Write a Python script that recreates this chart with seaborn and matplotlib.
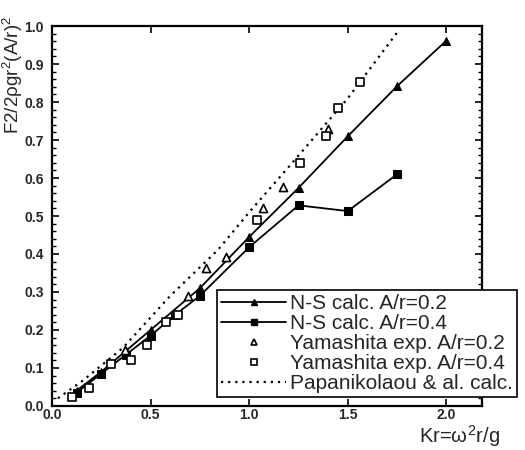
import numpy as np
import matplotlib
matplotlib.use("Agg")
import matplotlib.pyplot as plt
import seaborn as sns
from matplotlib.lines import Line2D
from matplotlib.ticker import MultipleLocator

# N-S calculation, A/r = 0.2 (filled triangles)
ns02_x = [0.125, 0.25, 0.375, 0.5, 0.75, 1.0, 1.25, 1.5, 1.75, 2.0]
ns02_y = [0.04, 0.09, 0.145, 0.20, 0.31, 0.445, 0.574, 0.71, 0.842, 0.962]

# N-S calculation, A/r = 0.4 (filled squares)
ns04_x = [0.125, 0.25, 0.375, 0.5, 0.625, 0.75, 1.0, 1.25, 1.5, 1.75]
ns04_y = [0.035, 0.085, 0.135, 0.185, 0.24, 0.29, 0.418, 0.528, 0.513, 0.61]

# Yamashita experiments
yam02_x = [0.37, 0.69, 0.78, 0.88, 1.07, 1.17, 1.40]
yam02_y = [0.147, 0.29, 0.363, 0.392, 0.52, 0.576, 0.73]
yam04_x = [0.10, 0.19, 0.30, 0.40, 0.48, 0.58, 0.64, 1.04, 1.26, 1.39, 1.45, 1.56]
yam04_y = [0.024, 0.047, 0.11, 0.12, 0.16, 0.22, 0.24, 0.49, 0.64, 0.71, 0.784, 0.853]

# Papanikolaou & al. calculation (dotted)
pap_x = [0.03, 0.16, 0.36, 0.6, 0.84, 1.0, 1.21, 1.5, 1.76]
pap_y = [0.02, 0.068, 0.153, 0.29, 0.41, 0.51, 0.635, 0.81, 0.99]

labels = ["N-S calc. A/r=0.2", "N-S calc. A/r=0.4", "Yamashita exp. A/r=0.2",
          "Yamashita exp. A/r=0.4", "Papanikolaou & al. calc."]

sns.set_style("ticks")
plt.rcParams["font.family"] = ["Liberation Sans", "DejaVu Sans"]
plt.rcParams["mathtext.fontset"] = "custom"
plt.rcParams["mathtext.rm"] = "Liberation Sans"
plt.rcParams["mathtext.it"] = "Liberation Sans"

fig = plt.figure(figsize=(5.25, 4.5), dpi=100)
ax = fig.add_axes([0.099, 0.098, 0.819, 0.844])

sns.lineplot(x=ns02_x, y=ns02_y, ax=ax, color="black", lw=1.3, marker="^",
             markersize=6, markeredgecolor="black", estimator=None, sort=False)
sns.lineplot(x=ns04_x, y=ns04_y, ax=ax, color="black", lw=1.3, marker="s",
             markersize=5.5, markeredgecolor="black", estimator=None, sort=False)
sns.lineplot(x=pap_x, y=pap_y, ax=ax, color="black", lw=1.6, linestyle=(0, (1, 2.2)),
             estimator=None, sort=False)
sns.scatterplot(x=yam02_x, y=yam02_y, ax=ax, marker="^", s=34, facecolor="white",
                edgecolor="black", linewidth=1.2, zorder=3)
sns.scatterplot(x=yam04_x, y=yam04_y, ax=ax, marker="s", s=26, facecolor="white",
                edgecolor="black", linewidth=1.2, zorder=3)

ax.set_xlim(0, 2.18)
ax.set_ylim(0, 1.0)
ax.xaxis.set_major_locator(MultipleLocator(0.5))
ax.yaxis.set_major_locator(MultipleLocator(0.1))
ax.yaxis.set_minor_locator(MultipleLocator(0.02))
ax.tick_params(which="both", direction="in", top=True, right=True, color="black")
ax.tick_params(which="major", length=5, width=1.2, labelsize=10)
ax.tick_params(which="minor", length=3, width=1)
ax.tick_params(axis="x", pad=1.5)
ax.tick_params(axis="y", pad=6)
ax.set_xticks([0.0, 0.5, 1.0, 1.5, 2.0])
ax.set_xticklabels(["0.0", "0.5", "1.0", "1.5", "2.0"], fontweight="bold")
ax.set_yticks(np.round(np.arange(0, 1.01, 0.1), 1))
ax.set_yticklabels([f"{v:.1f}" for v in np.arange(0, 1.01, 0.1)], fontweight="bold")
for sp in ax.spines.values():
    sp.set_linewidth(1.6)
    sp.set_color("black")

fig.text(0.025, 0.965, r"F2/2$\rho$gr$^2$(A/r)$^2$", rotation=90, ha="center", va="top",
         fontsize=13.5)
fig.text(0.875, 0.002, r"Kr=$\omega^2$r/g", ha="center", va="bottom", fontsize=14.5)

handles = [
    Line2D([], [], color="black", lw=1.3, marker="^", markersize=5),
    Line2D([], [], color="black", lw=1.3, marker="s", markersize=4.5),
    Line2D([], [], color="none", marker="^", markersize=5, markerfacecolor="white",
           markeredgecolor="black", markeredgewidth=1.2),
    Line2D([], [], color="none", marker="s", markersize=4.5, markerfacecolor="white",
           markeredgecolor="black", markeredgewidth=1.2),
    Line2D([], [], color="black", lw=1.6, linestyle=(0, (1, 2.2))),
]
leg = ax.legend(handles, labels, loc="upper right", bbox_to_anchor=(0.985, 0.356),
                bbox_transform=fig.transFigure, fontsize=15, frameon=True,
                fancybox=False, framealpha=1, edgecolor="black", handlelength=3.1,
                handletextpad=0.2, labelspacing=0.05, borderpad=0.2,
                borderaxespad=0)
leg.get_frame().set_linewidth(1.2)
leg.set_zorder(5)

fig.savefig("out.png", dpi=100)
